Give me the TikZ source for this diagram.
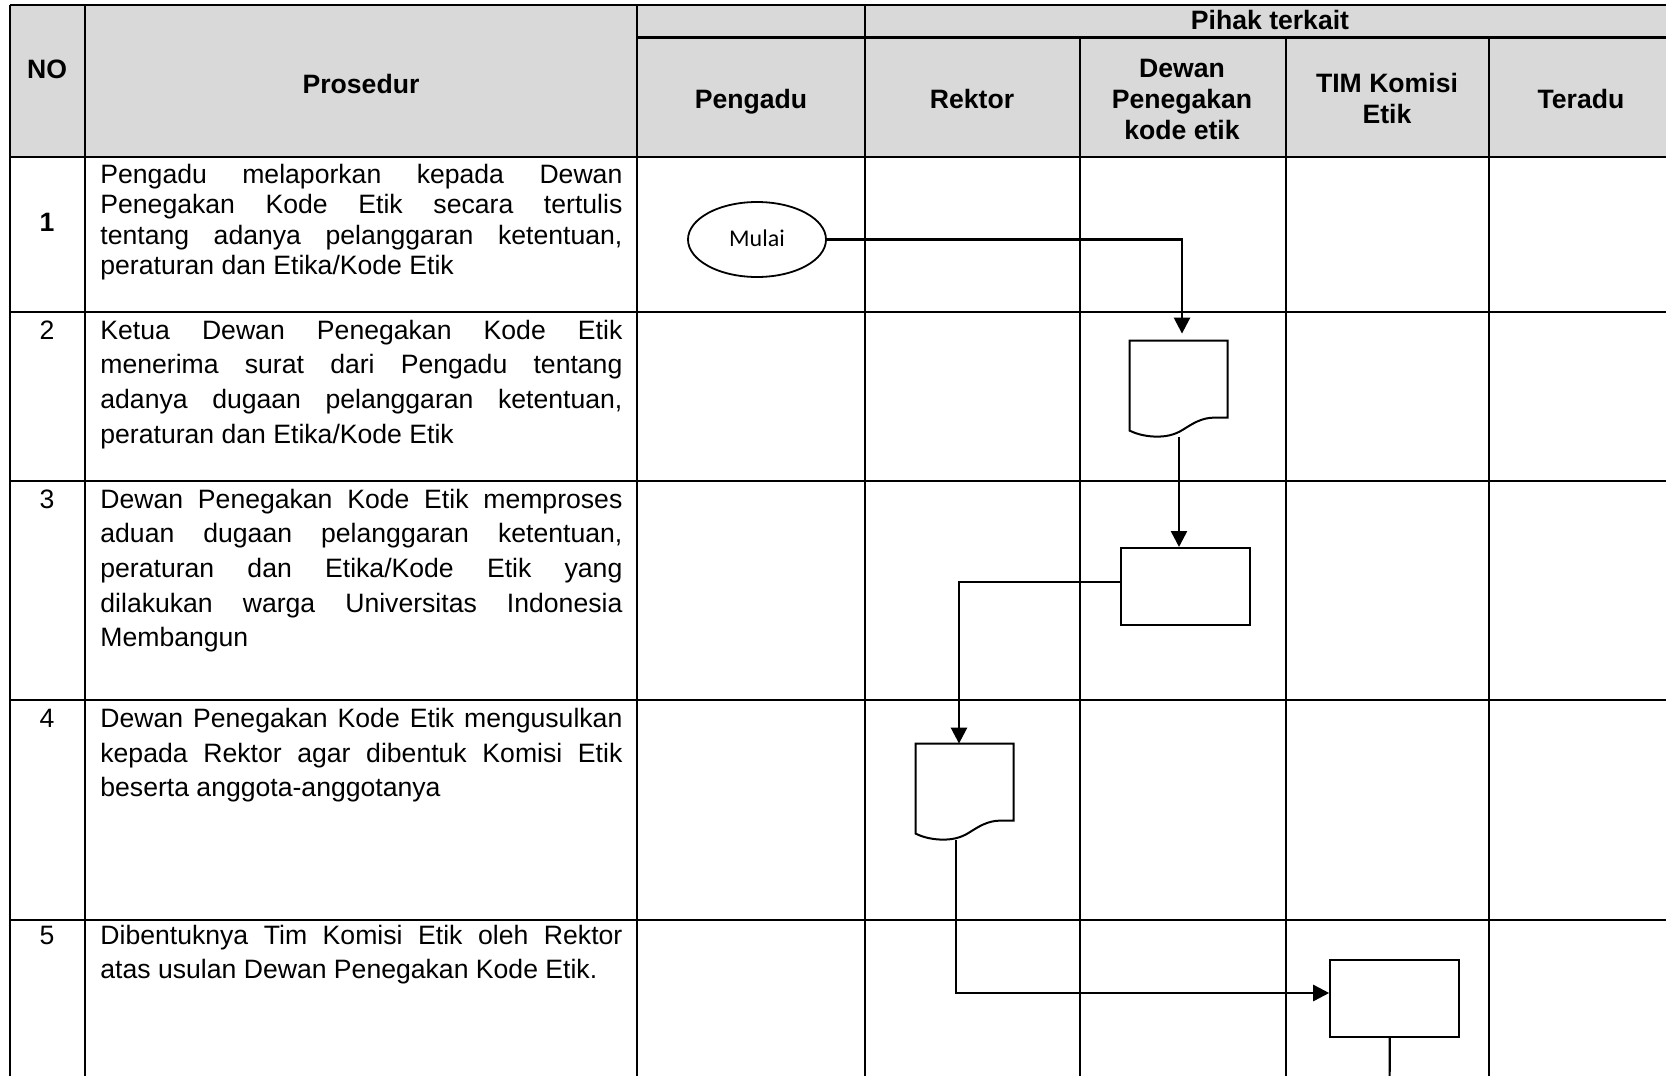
\documentclass[tikz,border=0pt]{standalone}
\usepackage{fontspec}
\setmainfont{Liberation Sans}
\newfontfamily\calibfont{Carlito}
\usetikzlibrary{arrows.meta,shapes.geometric,calc}
\definecolor{hdrgray}{HTML}{D9D9D9}
\newcommand{\jl}[1]{\makebox[261pt][s]{#1}}
\newcommand{\docpath}{(0,0) -- (98,0) -- (98,77) -- (85,77) .. controls (72,77) and (63,83) .. (53.5,89) .. controls (44,95) and (35,96) .. (27.5,96) .. controls (18,96) and (8,94) .. (0,90) -- cycle}
\begin{document}
\begin{tikzpicture}[x=0.5pt,y=-0.5pt,
  hline/.style={line width=1.3pt},
  vline/.style={line width=1.1pt},
  hdr/.style={anchor=base, inner sep=0, font=\fontsize{13.3}{15.5}\selectfont\bfseries},
  bodytxt/.style={anchor=base west, inner sep=0},
  num/.style={anchor=base, inner sep=0, font=\fontsize{13.3}{16}\selectfont},
  docnode/.style={draw=none, minimum width=49pt, minimum height=48pt, inner sep=0},
  flowbox/.style={draw, line width=1pt, minimum width=64.5pt, minimum height=38.5pt, inner sep=0},
  shapeline/.style={draw, line width=1pt},
  flow/.style={line width=1.3pt, -{Triangle[length=8pt,width=8pt]}},
]
\useasboundingbox (0,0) rectangle (1666,1076);
\clip (0,0) rectangle (1666,1076);
\fill[white] (0,0) rectangle (1666,1076);
\fill[hdrgray] (10,5) rectangle (1690,157);

% table lines
\draw[hline] (10,5) -- (1690,5);
\draw[hline] (637,37.5) -- (1690,37.5);
\draw[hline] (10,157) -- (1690,157);
\foreach \yy in {312,481,700,920} { \draw[hline] (10,\yy) -- (1690,\yy); }
\foreach \xx in {10,85,637,865} { \draw[vline] (\xx,5) -- (\xx,1090); }
\foreach \xx in {1080,1286,1489} { \draw[vline] (\xx,37.5) -- (\xx,1090); }

% header texts
\node[hdr] (hno) at (47,78) {NO};
\node[hdr] (hpros) at (361,93) {Prosedur};
\node[hdr] (hpihak) at (1270,29.5) {Pihak terkait};
\node[hdr] (hpeng) at (751,108) {Pengadu};
\node[hdr] (hrek) at (972,108) {Rektor};
\node[hdr] (hdw1) at (1182,77.5) {Dewan};
\node[hdr] (hdw2) at (1182,108.5) {Penegakan};
\node[hdr] (hdw3) at (1182,139.5) {kode etik};
\node[hdr] (htim1) at (1387,92.5) {TIM Komisi};
\node[hdr] (htim2) at (1387,123.5) {Etik};
\node[hdr] (hter) at (1581,108) {Teradu};

% numbers
\node[num, font=\fontsize{13.3}{16}\selectfont\bfseries] (n1) at (47,231) {1};
\node[num] (n2) at (47,339) {2};
\node[num] (n3) at (47,508) {3};
\node[num] (n4) at (47,727.5) {4};
\node[num] (n5) at (47,944) {5};

% procedure texts
\node[bodytxt] (t1) at (100,183) {\parbox[t]{261pt}{\fontsize{13.3}{15.3}\selectfont
\jl{Pengadu melaporkan kepada Dewan}\\
\jl{Penegakan Kode Etik secara tertulis}\\
\jl{tentang adanya pelanggaran ketentuan,}\\
peraturan dan Etika/Kode Etik}};
\node[bodytxt] (t2) at (100,339) {\parbox[t]{261pt}{\fontsize{13.3}{17.35}\selectfont
\jl{Ketua Dewan Penegakan Kode Etik}\\
\jl{menerima surat dari Pengadu tentang}\\
\jl{adanya dugaan pelanggaran ketentuan,}\\
peraturan dan Etika/Kode Etik}};
\node[bodytxt] (t3) at (100,508) {\parbox[t]{261pt}{\fontsize{13.3}{17.35}\selectfont
\jl{Dewan Penegakan Kode Etik memproses}\\
\jl{aduan dugaan pelanggaran ketentuan,}\\
\jl{peraturan dan Etika/Kode Etik yang}\\
\jl{dilakukan warga Universitas Indonesia}\\
Membangun}};
\node[bodytxt] (t4) at (100,727.5) {\parbox[t]{261pt}{\fontsize{13.3}{17.35}\selectfont
\jl{Dewan Penegakan Kode Etik mengusulkan}\\
\jl{kepada Rektor agar dibentuk Komisi Etik}\\
beserta anggota-anggotanya}};
\node[bodytxt] (t5) at (100,944) {\parbox[t]{261pt}{\fontsize{13.3}{17.35}\selectfont
\jl{Dibentuknya Tim Komisi Etik oleh Rektor}\\
atas usulan Dewan Penegakan Kode Etik.}};

% flowchart shapes
\node[ellipse, draw, line width=0.9pt, minimum width=69pt, minimum height=37.5pt, inner sep=0,
      font=\calibfont\fontsize{12}{14}\selectfont] (mulai) at (757,239.5) {\raisebox{1pt}{Mulai}};
\node[docnode] (doc1) at (1179,389) {};
\begin{scope}[shift={(doc1.north west)}]
  \path[shapeline, fill=white] \docpath;
\end{scope}
\node[flowbox] (box3) at (1185,586.5) {};
\node[docnode] (doc2) at (965,792) {};
\begin{scope}[shift={(doc2.north west)}]
  \path[shapeline, fill=white] \docpath;
\end{scope}
\node[flowbox] (box5) at (1394.7,998.5) {};
\coordinate (bottomend) at (1389.6,1090);

% connectors
\draw[flow, shorten >=3.5pt] (mulai.east) -| ([xshift=1.5pt]doc1.north);
\draw[flow] (doc1.south) -- (doc1.south |- box3.north);
\draw[flow] ([yshift=2.25pt]box3.west) -| ([xshift=-3pt]doc2.north);
\draw[flow] ([xshift=-4.5pt]doc2.south) |- ([yshift=2.75pt]box5.west);
\draw[line width=1.1pt] ([xshift=-2.5pt]box5.south) -- (bottomend);
\end{tikzpicture}
\end{document}
